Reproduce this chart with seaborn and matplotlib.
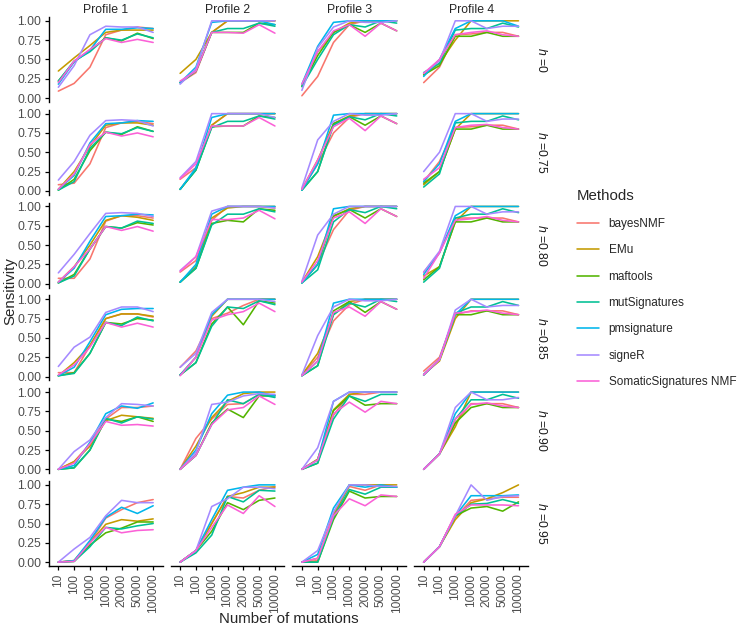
import numpy as np
import pandas as pd
import matplotlib
matplotlib.use("Agg")
import matplotlib.pyplot as plt
from matplotlib.lines import Line2D
import seaborn as sns

# categories
MUTATIONS = ["10", "100", "1000", "10000", "20000", "50000", "100000"]
PROFILES = ["Profile 1", "Profile 2", "Profile 3", "Profile 4"]
H_LEVELS = ["0", "0.75", "0.80", "0.85", "0.90", "0.95"]
METHODS = ["bayesNMF", "EMu", "maftools", "mutSignatures", "pmsignature",
           "signeR", "SomaticSignatures NMF"]
COLORS = ["#F8766D", "#C49A00", "#53B400", "#00C094", "#00B6EB", "#A58AFF", "#FB61D7"]

# sensitivity per panel: rows follow METHODS order, columns follow MUTATIONS
H0_P1 = [[0.09, 0.19, 0.40, 0.82, 0.88, 0.92, 0.90],
         [0.35, 0.52, 0.68, 0.85, 0.88, 0.88, 0.88],
         [0.22, 0.47, 0.62, 0.78, 0.74, 0.84, 0.77],
         [0.22, 0.48, 0.60, 0.78, 0.75, 0.83, 0.78],
         [0.18, 0.47, 0.62, 0.89, 0.89, 0.91, 0.90],
         [0.14, 0.42, 0.82, 0.93, 0.92, 0.92, 0.85],
         [0.20, 0.48, 0.63, 0.77, 0.72, 0.76, 0.72]]
H0_P2 = [[0.20, 0.33, 0.85, 1.00, 1.00, 1.00, 1.00],
         [0.32, 0.50, 0.85, 1.00, 1.00, 1.00, 1.00],
         [0.20, 0.35, 0.85, 0.85, 0.85, 0.97, 0.95],
         [0.20, 0.35, 0.85, 0.90, 0.90, 0.97, 0.93],
         [0.20, 0.40, 0.98, 1.00, 1.00, 1.00, 0.95],
         [0.18, 0.38, 1.00, 1.00, 1.00, 1.00, 1.00],
         [0.22, 0.35, 0.85, 0.85, 0.84, 0.95, 0.84]]
H0_P3 = [[0.03, 0.28, 0.72, 0.95, 1.00, 1.00, 1.00],
         [0.15, 0.60, 0.85, 0.97, 1.00, 1.00, 1.00],
         [0.15, 0.55, 0.85, 0.95, 0.85, 0.97, 0.87],
         [0.15, 0.50, 0.82, 0.95, 0.92, 1.00, 0.97],
         [0.18, 0.67, 0.98, 1.00, 1.00, 1.00, 1.00],
         [0.10, 0.65, 0.92, 1.00, 0.98, 0.98, 1.00],
         [0.18, 0.60, 0.87, 0.95, 0.80, 0.97, 0.87]]
H0_P4 = [[0.20, 0.40, 0.82, 0.83, 0.85, 0.85, 0.80],
         [0.30, 0.45, 0.75, 1.00, 1.00, 1.00, 1.00],
         [0.30, 0.42, 0.80, 0.80, 0.85, 0.80, 0.80],
         [0.33, 0.45, 0.88, 0.90, 0.90, 0.97, 0.92],
         [0.28, 0.50, 0.90, 1.00, 1.00, 1.00, 0.93],
         [0.32, 0.48, 1.00, 1.00, 0.90, 0.93, 0.93],
         [0.32, 0.50, 0.82, 0.85, 0.87, 0.82, 0.80]]

H75_P1 = [[0.08, 0.10, 0.35, 0.82, 0.88, 0.90, 0.87],
          [0.02, 0.25, 0.58, 0.85, 0.88, 0.88, 0.85],
          [0.01, 0.15, 0.52, 0.76, 0.73, 0.83, 0.77],
          [0.01, 0.12, 0.55, 0.76, 0.74, 0.82, 0.77],
          [0.02, 0.20, 0.62, 0.87, 0.88, 0.91, 0.90],
          [0.14, 0.38, 0.72, 0.91, 0.92, 0.91, 0.84],
          [0.02, 0.22, 0.60, 0.76, 0.71, 0.75, 0.70]]
H75_P2 = [[0.15, 0.30, 0.85, 1.00, 1.00, 1.00, 1.00],
          [0.02, 0.28, 0.85, 1.00, 1.00, 1.00, 1.00],
          [0.02, 0.27, 0.83, 0.84, 0.84, 0.97, 0.95],
          [0.02, 0.27, 0.82, 0.90, 0.90, 0.97, 0.93],
          [0.02, 0.30, 0.95, 1.00, 1.00, 1.00, 1.00],
          [0.17, 0.38, 1.00, 1.00, 1.00, 1.00, 0.95],
          [0.16, 0.35, 0.84, 0.84, 0.84, 0.95, 0.84]]
H75_P3 = [[0.02, 0.35, 0.75, 0.95, 1.00, 1.00, 1.00],
          [0.02, 0.40, 0.87, 0.97, 1.00, 1.00, 1.00],
          [0.01, 0.25, 0.87, 0.96, 0.85, 0.97, 0.87],
          [0.01, 0.25, 0.85, 0.96, 0.92, 1.00, 0.97],
          [0.01, 0.35, 0.98, 1.00, 1.00, 1.00, 1.00],
          [0.04, 0.66, 0.90, 1.00, 0.98, 0.98, 1.00],
          [0.02, 0.40, 0.83, 0.94, 0.78, 0.97, 0.87]]
H75_P4 = [[0.12, 0.38, 0.82, 0.83, 0.85, 0.85, 0.80],
          [0.08, 0.25, 0.80, 1.00, 1.00, 1.00, 1.00],
          [0.10, 0.25, 0.80, 0.80, 0.85, 0.80, 0.80],
          [0.05, 0.22, 0.88, 0.90, 0.90, 0.97, 0.92],
          [0.12, 0.35, 0.90, 1.00, 1.00, 1.00, 1.00],
          [0.25, 0.50, 1.00, 1.00, 0.90, 0.93, 0.93],
          [0.15, 0.30, 0.82, 0.85, 0.86, 0.82, 0.80]]

H80_P1 = [[0.07, 0.07, 0.32, 0.81, 0.88, 0.88, 0.85],
          [0.02, 0.22, 0.50, 0.82, 0.88, 0.86, 0.82],
          [0.01, 0.12, 0.45, 0.74, 0.72, 0.79, 0.76],
          [0.01, 0.10, 0.45, 0.74, 0.72, 0.81, 0.78],
          [0.02, 0.20, 0.55, 0.87, 0.88, 0.90, 0.89],
          [0.14, 0.38, 0.65, 0.91, 0.92, 0.91, 0.87],
          [0.02, 0.22, 0.45, 0.74, 0.69, 0.74, 0.68]]
H80_P2 = [[0.15, 0.30, 0.82, 1.00, 1.00, 1.00, 0.98],
          [0.02, 0.22, 0.85, 0.98, 1.00, 1.00, 1.00],
          [0.02, 0.20, 0.78, 0.82, 0.80, 0.97, 0.95],
          [0.02, 0.20, 0.76, 0.90, 0.90, 0.97, 0.93],
          [0.02, 0.25, 0.90, 1.00, 1.00, 1.00, 1.00],
          [0.17, 0.35, 0.94, 1.00, 1.00, 1.00, 0.98],
          [0.16, 0.35, 0.83, 0.83, 0.85, 0.95, 0.84]]
H80_P3 = [[0.02, 0.25, 0.70, 0.95, 1.00, 1.00, 1.00],
          [0.02, 0.35, 0.87, 0.97, 1.00, 1.00, 1.00],
          [0.01, 0.25, 0.88, 0.96, 0.85, 0.97, 0.87],
          [0.01, 0.18, 0.80, 0.96, 0.92, 1.00, 0.97],
          [0.01, 0.25, 0.97, 1.00, 1.00, 1.00, 1.00],
          [0.03, 0.63, 0.90, 1.00, 1.00, 1.00, 1.00],
          [0.02, 0.30, 0.85, 0.93, 0.78, 0.97, 0.87]]
H80_P4 = [[0.15, 0.40, 0.85, 0.85, 0.85, 0.85, 0.80],
          [0.10, 0.22, 0.80, 1.00, 1.00, 1.00, 1.00],
          [0.05, 0.22, 0.80, 0.80, 0.85, 0.80, 0.80],
          [0.02, 0.20, 0.85, 0.90, 0.90, 0.97, 0.92],
          [0.12, 0.40, 0.88, 1.00, 1.00, 1.00, 1.00],
          [0.15, 0.42, 1.00, 1.00, 0.90, 0.93, 0.93],
          [0.07, 0.40, 0.82, 0.84, 0.87, 0.82, 0.80]]

H85_P1 = [[0.05, 0.05, 0.40, 0.75, 0.81, 0.81, 0.77],
          [0.01, 0.18, 0.40, 0.75, 0.81, 0.81, 0.78],
          [0.01, 0.05, 0.30, 0.70, 0.68, 0.75, 0.73],
          [0.01, 0.04, 0.30, 0.70, 0.66, 0.77, 0.72],
          [0.01, 0.12, 0.45, 0.80, 0.87, 0.88, 0.88],
          [0.13, 0.38, 0.51, 0.83, 0.90, 0.90, 0.84],
          [0.02, 0.15, 0.38, 0.70, 0.64, 0.69, 0.64]]
H85_P2 = [[0.12, 0.33, 0.75, 0.82, 0.92, 1.00, 1.00],
          [0.02, 0.25, 0.78, 1.00, 1.00, 1.00, 1.00],
          [0.02, 0.18, 0.68, 0.90, 0.67, 0.98, 0.95],
          [0.02, 0.18, 0.65, 0.90, 0.88, 0.98, 0.93],
          [0.02, 0.25, 0.80, 1.00, 1.00, 1.00, 1.00],
          [0.12, 0.30, 0.83, 1.00, 1.00, 1.00, 0.97],
          [0.01, 0.25, 0.73, 0.80, 0.84, 0.95, 0.84]]
H85_P3 = [[0.02, 0.25, 0.72, 0.93, 1.00, 1.00, 1.00],
          [0.02, 0.30, 0.80, 0.97, 1.00, 1.00, 1.00],
          [0.01, 0.14, 0.85, 0.97, 0.83, 0.97, 0.87],
          [0.01, 0.14, 0.80, 0.95, 0.90, 1.00, 0.97],
          [0.01, 0.20, 0.95, 1.00, 1.00, 1.00, 1.00],
          [0.02, 0.53, 0.90, 1.00, 0.98, 0.98, 1.00],
          [0.01, 0.20, 0.83, 0.90, 0.78, 0.97, 0.87]]
H85_P4 = [[0.07, 0.25, 0.80, 0.85, 0.85, 0.85, 0.80],
          [0.03, 0.20, 0.75, 1.00, 1.00, 1.00, 1.00],
          [0.02, 0.22, 0.80, 0.80, 0.85, 0.80, 0.80],
          [0.02, 0.22, 0.82, 0.90, 0.90, 0.97, 0.92],
          [0.02, 0.22, 0.80, 1.00, 1.00, 1.00, 1.00],
          [0.03, 0.22, 0.86, 1.00, 0.90, 0.92, 0.92],
          [0.02, 0.22, 0.82, 0.84, 0.86, 0.82, 0.80]]

H90_P1 = [[0.00, 0.10, 0.33, 0.65, 0.80, 0.80, 0.82],
          [0.00, 0.10, 0.30, 0.63, 0.70, 0.68, 0.66],
          [0.00, 0.02, 0.25, 0.65, 0.62, 0.68, 0.62],
          [0.00, 0.02, 0.25, 0.66, 0.60, 0.68, 0.65],
          [0.00, 0.05, 0.35, 0.72, 0.82, 0.79, 0.86],
          [0.00, 0.23, 0.38, 0.67, 0.85, 0.84, 0.82],
          [0.00, 0.08, 0.33, 0.62, 0.57, 0.58, 0.56]]
H90_P2 = [[0.00, 0.40, 0.65, 0.84, 0.85, 0.97, 0.96],
          [0.00, 0.30, 0.67, 0.88, 0.98, 1.00, 1.00],
          [0.00, 0.18, 0.60, 0.78, 0.67, 0.95, 0.95],
          [0.00, 0.18, 0.58, 0.90, 0.85, 0.97, 0.93],
          [0.00, 0.25, 0.72, 0.96, 1.00, 1.00, 0.95],
          [0.00, 0.22, 0.84, 0.87, 0.95, 0.98, 0.97],
          [0.00, 0.18, 0.58, 0.77, 0.80, 0.95, 0.84]]
H90_P3 = [[0.00, 0.13, 0.70, 0.97, 0.97, 1.00, 1.00],
          [0.00, 0.13, 0.77, 0.97, 1.00, 1.00, 1.00],
          [0.00, 0.08, 0.76, 0.95, 0.83, 0.85, 0.85],
          [0.00, 0.08, 0.65, 0.95, 0.88, 0.97, 0.97],
          [0.00, 0.12, 0.88, 1.00, 1.00, 1.00, 1.00],
          [0.00, 0.28, 0.88, 1.00, 1.00, 1.00, 1.00],
          [0.00, 0.12, 0.72, 0.87, 0.74, 0.88, 0.85]]
H90_P4 = [[0.00, 0.20, 0.60, 0.85, 0.85, 0.85, 0.80],
          [0.00, 0.20, 0.55, 1.00, 1.00, 1.00, 1.00],
          [0.00, 0.20, 0.60, 0.80, 0.85, 0.80, 0.80],
          [0.00, 0.20, 0.65, 0.90, 0.90, 0.97, 0.92],
          [0.00, 0.20, 0.72, 1.00, 1.00, 1.00, 1.00],
          [0.00, 0.20, 0.80, 1.00, 0.90, 0.90, 0.93],
          [0.00, 0.20, 0.65, 0.84, 0.86, 0.82, 0.80]]

H95_P1 = [[0.00, 0.02, 0.25, 0.57, 0.68, 0.77, 0.81],
          [0.00, 0.02, 0.25, 0.49, 0.55, 0.53, 0.56],
          [0.00, 0.01, 0.22, 0.38, 0.44, 0.52, 0.52],
          [0.00, 0.01, 0.20, 0.45, 0.43, 0.47, 0.50],
          [0.00, 0.02, 0.28, 0.58, 0.71, 0.63, 0.73],
          [0.00, 0.17, 0.32, 0.60, 0.80, 0.77, 0.77],
          [0.00, 0.01, 0.25, 0.45, 0.38, 0.41, 0.42]]
H95_P2 = [[0.00, 0.15, 0.50, 0.85, 0.83, 0.93, 0.98],
          [0.00, 0.15, 0.50, 0.85, 0.90, 0.97, 0.97],
          [0.00, 0.15, 0.40, 0.77, 0.68, 0.80, 0.83],
          [0.00, 0.12, 0.35, 0.85, 0.78, 0.93, 0.92],
          [0.00, 0.15, 0.55, 0.93, 0.97, 1.00, 1.00],
          [0.00, 0.15, 0.72, 0.82, 0.97, 0.97, 0.95],
          [0.00, 0.15, 0.45, 0.74, 0.63, 0.86, 0.72]]
H95_P3 = [[0.00, 0.02, 0.62, 0.98, 0.93, 1.00, 0.97],
          [0.00, 0.05, 0.60, 1.00, 1.00, 1.00, 1.00],
          [0.00, 0.00, 0.55, 0.92, 0.83, 0.85, 0.85],
          [0.00, 0.00, 0.58, 0.94, 0.88, 0.97, 0.97],
          [0.00, 0.10, 0.70, 1.00, 0.97, 1.00, 0.97],
          [0.00, 0.15, 0.65, 1.00, 1.00, 0.98, 0.98],
          [0.00, 0.05, 0.60, 0.82, 0.73, 0.87, 0.85]]
H95_P4 = [[0.00, 0.20, 0.58, 0.80, 0.82, 0.84, 0.84],
          [0.00, 0.20, 0.55, 0.77, 0.82, 0.90, 1.00],
          [0.00, 0.20, 0.60, 0.70, 0.72, 0.66, 0.78],
          [0.00, 0.20, 0.60, 0.75, 0.76, 0.81, 0.76],
          [0.00, 0.20, 0.60, 0.86, 0.86, 0.86, 0.87],
          [0.00, 0.20, 0.60, 1.00, 0.80, 0.85, 0.86],
          [0.00, 0.20, 0.62, 0.74, 0.74, 0.74, 0.73]]

PANELS = [[H0_P1, H0_P2, H0_P3, H0_P4],
          [H75_P1, H75_P2, H75_P3, H75_P4],
          [H80_P1, H80_P2, H80_P3, H80_P4],
          [H85_P1, H85_P2, H85_P3, H85_P4],
          [H90_P1, H90_P2, H90_P3, H90_P4],
          [H95_P1, H95_P2, H95_P3, H95_P4]]

# long table
rows = []
for i, h in enumerate(H_LEVELS):
    for j, prof in enumerate(PROFILES):
        for k, m in enumerate(METHODS):
            for p, mut in enumerate(MUTATIONS):
                rows.append((h, prof, m, p, PANELS[i][j][k][p]))
df = pd.DataFrame(rows, columns=["h", "profile", "method", "pos", "sensitivity"])

sns.set_style("white")
plt.rcParams["font.family"] = ["Liberation Sans", "DejaVu Sans"]
plt.rcParams["mathtext.fontset"] = "custom"
plt.rcParams["mathtext.it"] = "Liberation Sans:italic"
plt.rcParams["mathtext.rm"] = "Liberation Sans"

fig, axes = plt.subplots(6, 4, figsize=(7.4, 6.28), dpi=100, sharex=True, sharey=True)
fig.subplots_adjust(left=0.066, right=0.7135, top=0.973, bottom=0.0987,
                    wspace=0.07, hspace=0.092)

for i, h in enumerate(H_LEVELS):
    for j, prof in enumerate(PROFILES):
        ax = axes[i, j]
        sub = df[(df.h == h) & (df.profile == prof)]
        sns.lineplot(data=sub, x="pos", y="sensitivity", hue="method",
                     hue_order=METHODS, palette=COLORS, ax=ax, legend=False,
                     errorbar=None, lw=1.15)
        ax.set_xlim(-0.6, len(MUTATIONS) - 0.4)
        ax.set_ylim(-0.05, 1.05)
        ax.set_xlabel("")
        ax.set_ylabel("")
        for s in ["top", "right"]:
            ax.spines[s].set_visible(False)
        ax.spines["left"].set_visible(j == 0)
        ax.spines["bottom"].set_visible(i == len(H_LEVELS) - 1)
        for s in ["left", "bottom"]:
            ax.spines[s].set_color("black")
            ax.spines[s].set_linewidth(1.0)
        ax.set_yticks([0, 0.25, 0.5, 0.75, 1.0])
        ax.set_yticklabels(["0.00", "0.25", "0.50", "0.75", "1.00"])
        ax.set_xticks(range(len(MUTATIONS)))
        ax.set_xticklabels(MUTATIONS, rotation=90)
        ax.tick_params(axis="y", left=(j == 0), labelleft=(j == 0), length=3,
                       width=0.9, color="black", labelsize=8.8, labelcolor="#4D4D4D", pad=2.5)
        ax.tick_params(axis="x", bottom=(i == len(H_LEVELS) - 1),
                       labelbottom=(i == len(H_LEVELS) - 1), length=3, width=0.9,
                       color="black", labelsize=8.6, labelcolor="#4D4D4D", pad=2.5)
        ax.set_facecolor("white")
        if i == 0:
            ax.set_title(prof, fontsize=8.8, pad=3)
        if j == len(PROFILES) - 1:
            ax.text(1.12, 0.5, r"$h$ =" + h, transform=ax.transAxes, rotation=-90,
                    ha="center", va="center", fontsize=8.8, color="#1A1A1A")

fig.text(0.014, 1 - 291 / 628, "Sensitivity", rotation=90, ha="center",
         va="center", fontsize=10.8)
fig.text(0.39, 0.003, "Number of mutations", ha="center", va="bottom",
         fontsize=10.8)

handles = [Line2D([0], [0], color=c, lw=1.15) for c in COLORS]
leg = fig.legend(handles, METHODS, title="Methods", loc="center left",
                 bbox_to_anchor=(0.765, 0.54), frameon=False, fontsize=8.5,
                 title_fontsize=10.8, labelspacing=1.22, handlelength=1.85,
                 handletextpad=0.85)
leg._legend_box.align = "left"

fig.savefig("out.png", dpi=100, facecolor="white")
